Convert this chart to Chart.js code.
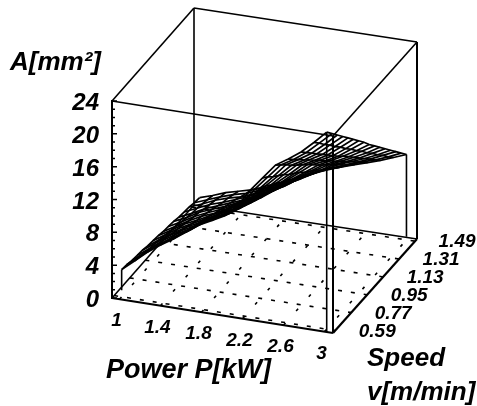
<!DOCTYPE html>
<html><head><meta charset="utf-8">
<style>html,body{margin:0;padding:0;background:#fff}canvas{display:block}</style>
<script src="https://cdn.jsdelivr.net/npm/chart.js@4"></script>
</head><body>
<canvas id="c" width="477" height="406"></canvas>
<script>
const powerTicks = [1, 1.4, 1.8, 2.2, 2.6, 3];
const speedTicks = [0.59, 0.77, 0.95, 1.13, 1.31, 1.49];
const areaTicks = [0, 4, 8, 12, 16, 20, 24];
const surfacePower = [1, 1.125, 1.25, 1.375, 1.5, 1.625, 1.75, 1.875, 2, 2.125, 2.25, 2.375, 2.5, 2.625, 2.75, 2.875, 3];
const surfaceSpeed = [0.59, 0.65, 0.71, 0.77, 0.83, 0.89, 0.95, 1.01, 1.07, 1.13, 1.19, 1.25, 1.31, 1.37, 1.43, 1.49];
const areaByPower = [
 [3.3,3.2,3.0,2.9,2.8,2.6,2.5,2.4,2.2,2.1,2.0,1.8,1.7,1.6,1.4,1.3],
 [4.6,4.4,4.2,4.0,3.9,3.7,3.5,3.3,3.1,2.9,2.7,2.5,2.4,2.2,2.0,1.8],
 [5.9,5.7,5.4,5.2,5.0,4.7,4.5,4.3,4.0,3.8,3.6,3.3,3.1,2.9,2.6,2.4],
 [7.0,6.7,6.4,6.2,5.9,5.6,5.3,5.0,4.8,4.5,4.2,3.9,3.6,3.4,3.1,2.8],
 [8.0,7.7,7.4,7.0,6.7,6.4,6.1,5.8,5.4,5.1,4.8,4.5,4.2,3.8,3.5,3.2],
 [9.1,8.7,8.4,8.0,7.7,7.3,6.9,6.6,6.2,5.9,5.5,5.1,4.8,4.4,4.1,3.7],
 [10.2,9.8,9.4,9.0,8.7,8.3,7.9,7.5,7.1,6.7,6.3,5.9,5.6,5.2,4.8,4.4],
 [11.0,10.6,10.2,9.8,9.4,9.0,8.6,8.2,7.9,7.5,7.1,6.7,6.3,5.9,5.5,5.1],
 [11.8,11.4,11.0,10.6,10.2,9.8,9.4,9.0,8.7,8.3,7.9,7.5,7.1,6.7,6.3,5.9],
 [13.2,12.8,12.3,11.9,11.4,11.0,10.6,10.1,9.7,9.2,8.8,8.4,7.9,7.5,7.0,6.6],
 [15.4,14.9,14.3,13.8,13.2,12.7,12.1,11.6,11.0,10.5,9.9,9.4,8.8,8.3,7.7,7.2],
 [17.2,16.6,15.9,15.3,14.7,14.0,13.4,12.8,12.1,11.5,10.9,10.2,9.6,9.0,8.3,7.7],
 [19.0,18.3,17.6,16.8,16.1,15.4,14.7,14.0,13.2,12.5,11.8,11.1,10.4,9.6,8.9,8.2],
 [20.0,19.2,18.5,17.7,17.0,16.2,15.5,14.7,14.0,13.2,12.5,11.7,11.0,10.2,9.5,8.7],
 [21.1,20.3,19.5,18.7,17.9,17.1,16.3,15.5,14.8,14.0,13.2,12.4,11.6,10.8,10.0,9.2],
 [22.5,21.7,20.8,20.0,19.1,18.3,17.4,16.6,15.7,14.9,14.0,13.2,12.3,11.5,10.6,9.8],
 [24.0,23.1,22.2,21.3,20.4,19.5,18.6,17.7,16.7,15.8,14.9,14.0,13.1,12.2,11.3,10.4]
];
// where each surface corner's drop line meets the floor: [P, v, A at surface, A at base]
const surfaceDrops = [[1, 0.59, 3.3, 0.8], [3, 0.59, 24, -0.35], [3, 1.49, 10.4, 0.37]];

// box limits of the 3D frame
const Pmin = 0.927, Pmax = 3.083, Vmin = 0.565, Vmax = 1.512, Amax = 24;
// oblique view: screen position of the floor corners
const fl = {x:112,y:298}, fr = {x:333,y:333}, bl = {x:194,y:205}, br = {x:417,y:239};
const axisTop = 101, axisBottom = 298, pxPerA = (axisBottom - axisTop) / Amax;

function project(P, v, A) {
  const u = (P - Pmin) / (Pmax - Pmin), w = (v - Vmin) / (Vmax - Vmin);
  const sx = fl.x*(1-u)*(1-w) + fr.x*u*(1-w) + bl.x*(1-u)*w + br.x*u*w;
  const sy = fl.y*(1-u)*(1-w) + fr.y*u*(1-w) + bl.y*(1-u)*w + br.y*u*w;
  return {x: sx, y: A + (axisBottom - sy) / pxPerA};
}
function lineSet(points, width, dash) {
  return {data: points, showLine: true, pointRadius: 0, borderColor: '#000',
          borderWidth: width, borderDash: dash || [], clip: false, spanGaps: false, tension: 0};
}
const datasets = [];

// floor dotted grid
powerTicks.forEach(P => datasets.push(lineSet([project(P, Vmin, 0), project(P, Vmax, 0)], 1.6, [3, 16])));
speedTicks.forEach(v => datasets.push(lineSet([project(Pmin, v, 0), project(Pmax, v, 0)], 1.6, [4, 9])));

// box
const c00 = [Pmin, Vmin], c10 = [Pmax, Vmin], c11 = [Pmax, Vmax], c01 = [Pmin, Vmax];
const edge = (a, b, A1, A2, w) => datasets.push(lineSet([project(a[0], a[1], A1), project(b[0], b[1], A2)], w));
edge(c00, c10, 0, 0, 2.2); edge(c10, c11, 0, 0, 2.2); edge(c11, c01, 0, 0, 1.6); edge(c01, c00, 0, 0, 1.6);
edge(c00, c10, Amax, Amax, 1.6); edge(c10, c11, Amax, Amax, 1.6); edge(c11, c01, Amax, Amax, 1.6); edge(c01, c00, Amax, Amax, 1.6);
edge(c10, c10, 0, Amax, 2); edge(c11, c11, 0, Amax, 2); edge(c01, c01, 0, Amax, 1.6);

// A-axis inward tick marks
const tickPts = [];
for (let a = 0; a <= Amax; a++) {
  const o = project(Pmin, Vmin, a), major = areaTicks.includes(a);
  tickPts.push({x: o.x, y: a}, {x: o.x + (major ? 5 : 3), y: a}, {x: o.x, y: null});
}
datasets.push(lineSet(tickPts, 1.5));

// surface mesh
surfacePower.forEach((P, i) => datasets.push(lineSet(surfaceSpeed.map((v, j) => project(P, v, areaByPower[i][j])), 1.7)));
surfaceSpeed.forEach((v, j) => datasets.push(lineSet(surfacePower.map((P, i) => project(P, v, areaByPower[i][j])), 1.7)));
surfaceDrops.forEach(d => datasets.push(lineSet([project(d[0], d[1], d[2]), project(d[0], d[1], d[3])], 1.6)));

const bi = size => `italic bold ${size}px "Liberation Sans", Arial, sans-serif`;
const labelsPlugin = {
  id: 'labels3d',
  afterDraw(chart) {
    const {ctx, scales: {x, y}} = chart;
    const px = p => ({x: x.getPixelForValue(p.x), y: y.getPixelForValue(p.y)});
    ctx.save();
    ctx.fillStyle = '#000'; ctx.textAlign = 'center'; ctx.textBaseline = 'middle';
    ctx.font = bi(19);
    powerTicks.forEach(P => { const q = px(project(P, Vmin, 0)); ctx.fillText(String(P), q.x - 3, q.y + 22); });
    speedTicks.forEach(v => { const q = px(project(Pmax, v, 0)); ctx.fillText(v.toFixed(2), q.x + 42, q.y + 1); });
    ctx.font = bi(27); ctx.textAlign = 'left';
    ctx.fillText('Power P[kW]', 106, 371);
    ctx.font = bi(26);
    ctx.fillText('Speed', 367, 359);
    ctx.fillText('v[m/min]', 367, 393);
    ctx.fillText('A[mm²]', 10, 63);
    ctx.restore();
  }
};

new Chart(document.getElementById('c'), {
  type: 'scatter',
  data: {datasets},
  plugins: [labelsPlugin],
  options: {
    responsive: false, animation: false,
    layout: {padding: {top: axisTop, bottom: 406 - axisBottom, left: 0, right: 477 - br.x}},
    plugins: {legend: {display: false}, tooltip: {enabled: false}},
    scales: {
      x: {type: 'linear', min: fl.x, max: br.x, display: false},
      y: {type: 'linear', min: 0, max: Amax,
          afterFit(s) { s.width = fl.x; },
          grid: {display: false, drawTicks: false},
          border: {display: true, color: '#000', width: 2},
          ticks: {stepSize: 4, padding: 13, labelOffset: 2.5, color: '#000', font: {family: '"Liberation Sans", Arial, sans-serif', size: 24, weight: 'bold', style: 'italic'}}}
    }
  }
});
</script>
</body></html>
